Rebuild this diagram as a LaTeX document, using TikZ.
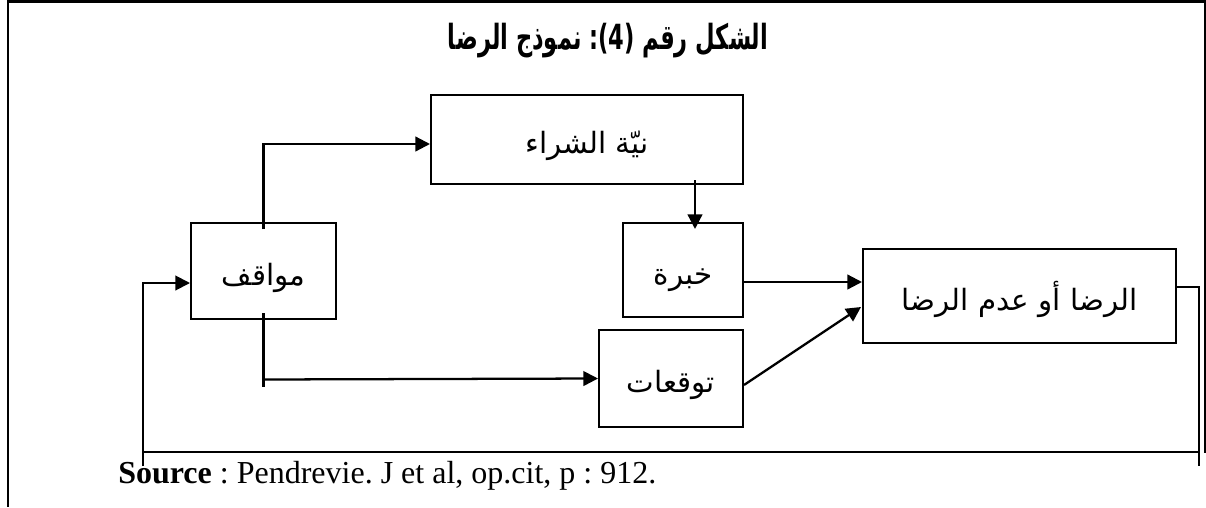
\documentclass[tikz,border=0pt]{standalone}
\usepackage{fontspec}
\setmainfont{Liberation Serif}
\newfontfamily\arabicfont[Script=Arabic]{DejaVu Sans}
\TeXXeTstate=1
\frenchspacing
\usetikzlibrary{arrows.meta,calc}

\tikzset{
  box/.style={draw, line width=1.5pt, rectangle, inner sep=0pt,
              text height=26pt, text depth=5pt,
              font=\arabicfont\fontsize{22}{26}\selectfont},
  link/.style={line width=1.7pt},
  conn/.style={link, -{Triangle[length=11pt,width=11pt]}},
  loop/.style={line width=1.5pt},
  frame/.style={line width=2.2pt}
}

\begin{document}
\begin{tikzpicture}[x=0.75pt,y=-0.75pt]
\useasboundingbox (0,0) rectangle (1206,507);

% page frame
\draw[frame] (8,1.5) -- (1206,1.5);
\draw[line width=1.6pt] (8,0) -- (8,507);
\draw[line width=1.2pt] (1205,0) -- (1205,453);

% title, set in a condensed bold
\node[inner sep=0pt, font=\arabicfont\bfseries\fontsize{26}{30}\selectfont] (title) at (608,41)
  {\scalebox{0.65}[1]{\beginR الشكل رقم (4): نموذج الرضا\endR}};

% blocks
\node[box, minimum width=234pt, minimum height=66.75pt] (niyya) at (587,139.5)
  {\beginR نيّة الشراء\endR};
\node[box, minimum width=108.75pt, minimum height=72pt] (mw) at (263.5,271)
  {\beginR مواقف\endR};
\node[box, minimum width=90pt, minimum height=70.5pt] (khibra) at (683,270)
  {\beginR خبرة\endR};
\node[box, minimum width=108pt, minimum height=72.75pt] (tawaqqu) at (671,378.5)
  {\beginR توقعات\endR};
\node[box, minimum width=234.75pt, minimum height=70.5pt] (rida) at (1019.5,296)
  {\beginR الرضا أو عدم الرضا\endR};

% feedback loop corners
\coordinate (loopR) at (1199,452);
\coordinate (loopL) at (143,452);
\coordinate (tailR) at (1199,466);
\coordinate (tailL) at (143,466);

% connectors
\draw[conn] ($(mw.north)+(0,7)$) |- ($(niyya.west)+(0,4.5)$);
\draw[conn] ($(niyya.south)+(108,-5)$) -- ($(khibra.north)+(12,7)$);
\draw[conn] ($(khibra.east)+(0,12)$) -- ($(rida.west)+(0,-14)$);
\draw[conn] ($(tawaqqu.east)+(0,6.5)$) -- ($(rida.west)+(-1,11)$);
\draw[link] ($(mw.south)+(0,-7)$) -- ($(mw.south)+(0,67)$);
\draw[conn] ($(mw.south)+(0,59.5)$) -- (tawaqqu.west);

% feedback from satisfaction back to attitudes
\draw[line width=1.1pt] ($(rida.east)+(0,-9)$) -| (tailR);
\draw[loop] (loopR) -- (loopL);
\draw[loop, -{Triangle[length=11pt,width=11pt]}] (tailL) |- ($(mw.west)+(0,12)$);

% source line
\node[anchor=base west, inner sep=0pt, font=\fontsize{24}{28}\selectfont] (src) at (118,483)
  {\textbf{Source} : Pendrevie. J et al, op.cit, p : 912.};
\end{tikzpicture}
\end{document}
